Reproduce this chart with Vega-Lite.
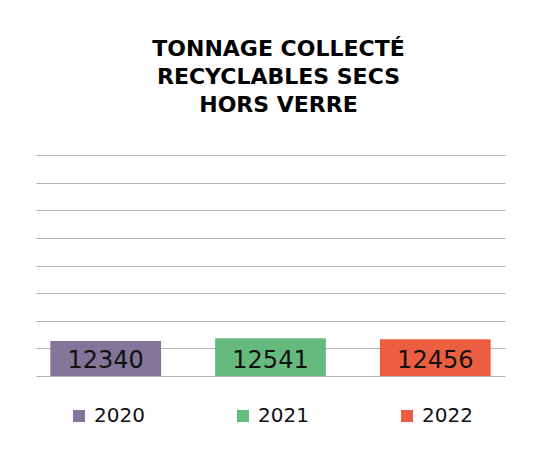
{
  "$schema": "https://vega.github.io/schema/vega-lite/v6.json",
  "width": 469,
  "height": 221,
  "padding": {"left": 36, "top": 38, "right": 34, "bottom": 0},
  "background": "white",
  "title": {
    "text": ["TONNAGE COLLECTÉ", "RECYCLABLES SECS", "HORS VERRE"],
    "font": "DejaVu Sans",
    "fontSize": 22,
    "fontWeight": "bold",
    "lineHeight": 28,
    "color": "#000000",
    "anchor": "middle",
    "dx": 8,
    "offset": 38
  },
  "data": {
    "values": [
      {"year": "2020", "tonnage": 12340},
      {"year": "2021", "tonnage": 12541},
      {"year": "2022", "tonnage": 12456}
    ]
  },
  "encoding": {
    "x": {
      "field": "year",
      "type": "nominal",
      "axis": null,
      "scale": {"paddingInner": 0.328, "paddingOuter": 0.087}
    }
  },
  "layer": [
    {
      "mark": {"type": "bar"},
      "encoding": {
        "y": {
          "field": "tonnage",
          "type": "quantitative",
          "scale": {"domain": [9800, 25800], "nice": false, "zero": false},
          "axis": {
            "values": [9800, 11800, 13800, 15800, 17800, 19800, 21800, 23800, 25800],
            "tickCount": 20,
            "labels": false,
            "ticks": false,
            "domain": false,
            "title": null,
            "grid": true,
            "gridColor": "#b3b3b3",
            "gridWidth": 1
          }
        },
        "y2": {"datum": 9800},
        "color": {
          "field": "year",
          "type": "nominal",
          "scale": {"domain": ["2020", "2021", "2022"], "range": ["#837499", "#65BB7D", "#EC5E40"]},
          "legend": {
            "orient": "bottom",
            "direction": "horizontal",
            "title": null,
            "symbolType": "square",
            "symbolSize": 144,
            "symbolStrokeWidth": 0,
            "symbolOpacity": 1,
            "labelFont": "DejaVu Sans",
            "labelFontSize": 20,
            "labelColor": "#111111",
            "labelOffset": 5,
            "columnPadding": 88,
            "offset": 30
          }
        }
      }
    },
    {
      "mark": {"type": "text", "font": "DejaVu Sans", "fontSize": 24, "color": "#111111", "baseline": "middle", "dy": -15},
      "encoding": {
        "y": {"datum": 9800, "type": "quantitative"},
        "text": {"field": "tonnage", "type": "quantitative", "format": "d"}
      }
    }
  ],
  "config": {
    "view": {"stroke": null},
    "legend": {"layout": {"bottom": {"anchor": "middle"}}}
  }
}
